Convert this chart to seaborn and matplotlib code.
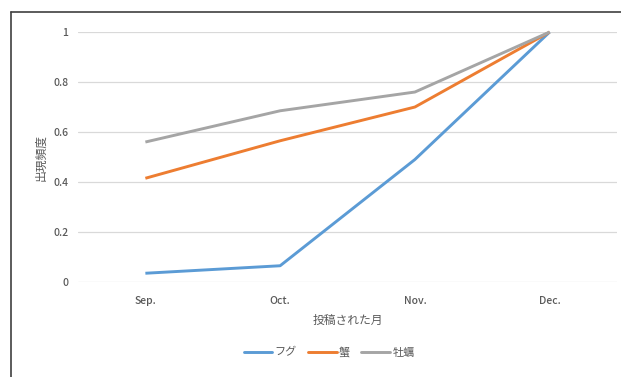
"""Line chart: occurrence frequency by posting month."""

import pandas as pd
import matplotlib.pyplot as plt
import seaborn as sns
from matplotlib.lines import Line2D

MONTHS = ['Sep.', 'Oct.', 'Nov.', 'Dec.']
FUGU = [0.035, 0.065, 0.49, 1.0]
CRAB = [0.415, 0.565, 0.70, 1.0]
OYSTER = [0.56, 0.685, 0.76, 1.0]
SERIES = ['フグ', '蟹', '牡蠣']
COLORS = ['#5B9BD5', '#ED7D31', '#A5A5A5']


def build_frame():
    rows = []
    for name, vals in zip(SERIES, [FUGU, CRAB, OYSTER]):
        for m, v in zip(MONTHS, vals):
            rows.append({'month': m, 'value': v, 'series': name})
    return pd.DataFrame(rows)


def main():
    sns.set_style('white')
    plt.rcParams['font.family'] = ['Noto Sans CJK JP', 'DejaVu Sans']

    df = build_frame()
    fig = plt.figure(figsize=(6.21, 3.77), dpi=100)
    ax = fig.add_axes([0.1256, 0.252, 0.868, 0.663])

    sns.lineplot(data=df, x='month', y='value', hue='series',
                 hue_order=SERIES, palette=COLORS, linewidth=2.1,
                 sort=False, ax=ax, legend=False)

    ax.set_xlim(-0.5, 3.5)
    ax.set_ylim(0, 1)
    ax.set_yticks([0, 0.2, 0.4, 0.6, 0.8, 1.0])
    ax.set_yticklabels(['0', '0.2', '0.4', '0.6', '0.8', '1'])
    ax.yaxis.grid(True, color='#D9D9D9', linewidth=0.9)
    ax.set_axisbelow(True)
    for s in ax.spines.values():
        s.set_visible(False)
    ax.tick_params(axis='y', length=0, labelsize=7.5, colors='#595959',
                   pad=7)
    ax.tick_params(axis='x', length=0, labelsize=7.5, colors='#595959',
                   pad=10)
    for lbl in ax.get_xticklabels() + ax.get_yticklabels():
        lbl.set_fontweight('medium')
    for ln in ax.lines:
        ln.set_clip_on(False)
        ln.set_solid_capstyle('butt')

    ax.set_xlabel('投稿された月', fontsize=8.5, color='#595959', labelpad=6)
    ax.set_ylabel('出現頻度', fontsize=8.5, color='#595959', labelpad=4)

    handles = [Line2D([], [], color=c, linewidth=2.1) for c in COLORS]
    fig.legend(handles, SERIES, loc='center', bbox_to_anchor=(0.53, 0.066),
               ncol=3, frameon=False, fontsize=8, handlelength=2.6,
               handletextpad=0.2, columnspacing=1.0, labelcolor='#595959')

    # outer frame (top and left edges visible)
    fig.add_artist(Line2D([0.0177, 0.0177], [0, 0.968], color='#404040',
                          linewidth=1.2, transform=fig.transFigure))
    fig.add_artist(Line2D([0.0177, 1.0], [0.968, 0.968], color='#404040',
                          linewidth=1.2, transform=fig.transFigure))

    fig.savefig('out.png', dpi=100)


if __name__ == '__main__':
    main()
